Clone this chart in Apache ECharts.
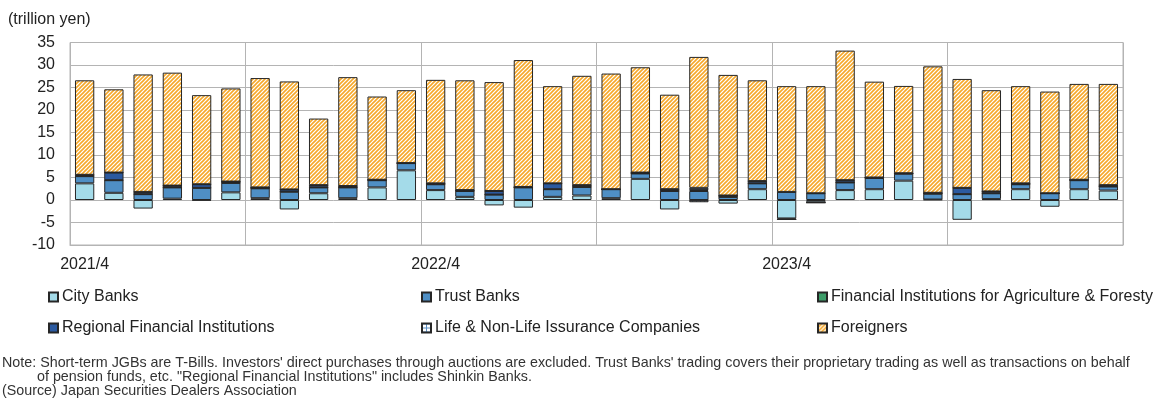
<!DOCTYPE html>
<html>
<head>
<meta charset="utf-8">
<script src="https://cdn.jsdelivr.net/npm/echarts@6/dist/echarts.min.js"></script>
<style>
  html, body { margin: 0; padding: 0; background: #fff; }
  #chart { width: 1163px; height: 401px; }
</style>
</head>
<body>
<div id="chart"></div>
<script>
// Monthly net purchases of short-term JGBs by investor type (trillion yen)
const months = [
  '2021/4','2021/5','2021/6','2021/7','2021/8','2021/9','2021/10','2021/11','2021/12','2022/1','2022/2','2022/3',
  '2022/4','2022/5','2022/6','2022/7','2022/8','2022/9','2022/10','2022/11','2022/12','2023/1','2023/2','2023/3',
  '2023/4','2023/5','2023/6','2023/7','2023/8','2023/9','2023/10','2023/11','2023/12','2024/1','2024/2','2024/3'
];
const cityBanks = [
  3.7, 1.6, -1.9, 0.3, -0.1, 1.7, 0.4, -2.1, 1.5, 0.4, 2.8, 6.6,
  2.2, 0.7, -1.2, -1.7, 0.7, 1.0, 0.4, 4.7, -2.1, -0.1, -0.8, 2.4,
  -4.1, -0.5, 2.2, 2.4, 4.3, 0.1, -4.4, 0.2, 2.4, -1.5, 2.4, 2.1
];
const trustBanks = [
  1.6, 2.8, 1.3, 2.5, 2.7, 2.1, 2.2, 1.85, 1.3, 2.4, 1.6, 1.6,
  1.3, 1.3, 1.2, 2.8, 1.7, 1.9, 2.0, 1.2, 2.0, 2.0, 0.7, 1.3,
  1.8, 1.5, 1.7, 2.5, 1.55, 1.3, 1.3, 1.3, 1.1, 1.5, 2.0, 0.9
];
const agriForestry = [
  0.0, 0.0, 0.0, 0.0, 0.0, 0.0, 0.0, 0.0, 0.0, 0.0, 0.0, 0.0,
  0.0, 0.0, 0.0, 0.0, 0.0, 0.0, 0.0, 0.0, 0.0, 0.2, 0.0, 0.0,
  0.0, 0.0, 0.0, 0.0, 0.0, 0.0, 0.0, 0.0, 0.0, 0.0, 0.0, 0.0
];
const regional = [
  0.3, 1.7, 0.5, 0.4, 0.8, 0.3, 0.2, 0.5, 0.5, 0.3, 0.1, 0.0,
  0.2, 0.2, 0.8, 0.1, 1.3, 0.4, 0.0, 0.2, 0.4, 0.5, 0.3, 0.5,
  -0.2, -0.1, 0.5, 0.1, 0.1, 0.2, 1.4, 0.4, 0.2, 0.0, 0.1, 0.3
];
const lifeNonLife = [
  0.0, 0.0, 0.0, 0.0, 0.0, 0.0, 0.0, 0.0, 0.0, 0.0, 0.0, 0.0,
  0.0, 0.0, 0.0, 0.0, 0.0, 0.0, 0.0, 0.0, 0.0, -0.4, 0.0, 0.0,
  0.0, 0.0, 0.0, 0.0, 0.0, 0.0, 0.0, 0.0, 0.0, 0.0, 0.0, 0.0
];
const foreigners = [
  21.0, 18.5, 26.1, 25.1, 19.8, 20.7, 24.3, 24.0, 14.8, 24.2, 18.5, 16.2,
  23.0, 24.4, 24.2, 28.2, 21.6, 24.3, 25.7, 23.4, 21.0, 29.1, 26.8, 22.4,
  23.5, 23.8, 28.8, 21.3, 19.4, 28.1, 24.2, 22.5, 21.6, 22.6, 21.3, 22.5
];

const FONT = '"Liberation Sans", Arial, sans-serif';

// Orange diagonal hatch used for the Foreigners segments
function hatchPattern() {
  const s = 4;
  const c = document.createElement('canvas');
  c.width = s; c.height = s;
  const g = c.getContext('2d');
  g.fillStyle = '#ffffff';
  g.fillRect(0, 0, s, s);
  g.strokeStyle = '#f6a82a';
  g.lineWidth = 1.6;
  g.beginPath();
  g.moveTo(-1, 1); g.lineTo(1, -1);
  g.moveTo(0, s); g.lineTo(s, 0);
  g.moveTo(s - 1, s + 1); g.lineTo(s + 1, s - 1);
  g.stroke();
  return { image: c, repeat: 'repeat' };
}

// Small checked tile for the insurance companies
function checkPattern() {
  const c = document.createElement('canvas');
  c.width = 4; c.height = 4;
  const g = c.getContext('2d');
  g.fillStyle = '#ffffff';
  g.fillRect(0, 0, 4, 4);
  g.fillStyle = '#5b8fc4';
  g.fillRect(0, 0, 4, 1);
  g.fillRect(0, 0, 1, 4);
  return { image: c, repeat: 'repeat' };
}

const seriesDefs = [
  { name: 'City Banks', data: cityBanks, color: '#a4dbe9' },
  { name: 'Trust Banks', data: trustBanks, color: '#4f8fc5' },
  { name: 'Financial Institutions for Agriculture & Foresty', data: agriForestry, color: '#3c9c68' },
  { name: 'Regional Financial Institutions', data: regional, color: '#2c5aa0' },
  { name: 'Life & Non-Life Issurance Companies', data: lifeNonLife, color: checkPattern() },
  { name: 'Foreigners', data: foreigners, color: hatchPattern() }
];

const legendPos = [
  { left: 48, top: 289 }, { left: 421, top: 289 }, { left: 817, top: 289 },
  { left: 48, top: 320 }, { left: 421, top: 320 }, { left: 817, top: 320 }
];

const chart = echarts.init(document.getElementById('chart'), null, { renderer: 'canvas' });

chart.setOption({
  animation: false,
  backgroundColor: '#ffffff',
  grid: {
    left: 70, right: 40, top: 42.5, bottom: 156,
    show: true, borderColor: '#b4b4b4', borderWidth: 1
  },
  xAxis: {
    type: 'category',
    data: months,
    boundaryGap: true,
    axisLine: { onZero: false, lineStyle: { color: '#b4b4b4' } },
    axisTick: { show: false },
    axisLabel: {
      interval: 11, color: '#222', fontSize: 16, fontFamily: FONT, margin: 12
    },
    splitLine: { show: true, interval: 5, lineStyle: { color: '#b4b4b4', width: 1 } }
  },
  yAxis: {
    type: 'value',
    min: -10, max: 35, interval: 5,
    axisLine: { show: true, lineStyle: { color: '#b4b4b4' } },
    axisTick: { show: false },
    axisLabel: { color: '#222', fontSize: 16, fontFamily: FONT, margin: 15 },
    splitLine: { lineStyle: { color: '#b4b4b4', width: 1 } }
  },
  legend: seriesDefs.map((s, i) => ({
    data: [s.name],
    left: legendPos[i].left,
    top: legendPos[i].top,
    icon: 'rect',
    itemWidth: 9,
    itemHeight: 9,
    itemGap: 0,
    padding: 0,
    selectedMode: false,
    textStyle: { color: '#222', fontSize: 16, fontFamily: FONT, padding: [0, 0, 0, -1] }
  })),
  series: seriesDefs.map(s => ({
    name: s.name,
    type: 'bar',
    stack: 'total',
    barWidth: '66%',
    data: s.data,
    itemStyle: { color: s.color, borderColor: '#262626', borderWidth: 1 },
    emphasis: { disabled: true }
  })),
  graphic: [
    { type: 'text', left: 8, top: 12,
      style: { text: '(trillion yen)', fill: '#222', font: '16px ' + FONT } },
    { type: 'text', left: 2, top: 356,
      style: { text: "Note: Short-term JGBs are T-Bills. Investors' direct purchases through auctions are excluded. Trust Banks' trading covers their proprietary trading as well as transactions on behalf", fill: '#333', font: '14.3px ' + FONT } },
    { type: 'text', left: 37, top: 370,
      style: { text: 'of pension funds, etc. "Regional Financial Institutions" includes Shinkin Banks.', fill: '#333', font: '14.3px ' + FONT } },
    { type: 'text', left: 2, top: 384,
      style: { text: '(Source) Japan Securities Dealers Association', fill: '#333', font: '14.3px ' + FONT } }
  ]
});
</script>
</body>
</html>
